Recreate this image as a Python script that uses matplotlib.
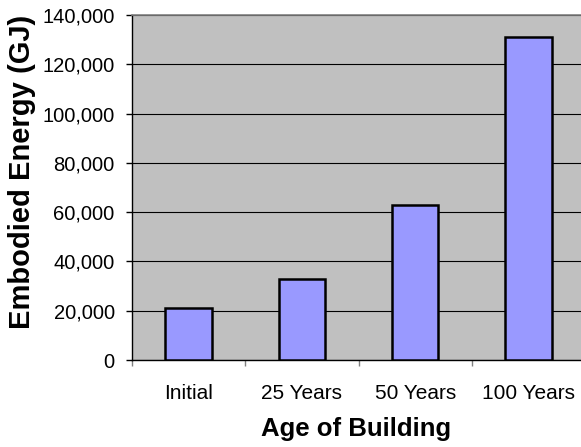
import matplotlib.pyplot as plt
from matplotlib.ticker import FuncFormatter, FixedLocator

plt.rcParams['font.family'] = ['Liberation Sans', 'DejaVu Sans']

# data
ages = ["Initial", "25 Years", "50 Years", "100 Years"]
energy = [21000, 32700, 63000, 131000]
yticks = [0, 20000, 40000, 60000, 80000, 100000, 120000, 140000]

fig = plt.figure(figsize=(5.81, 4.47), dpi=100)
# plot area runs slightly past the right edge, like the original
ax = fig.add_axes([132 / 581, 87 / 447, 453 / 581, 345 / 447])
ax.set_facecolor('#C0C0C0')

x = list(range(len(ages)))
ax.bar(x, energy, width=0.41, color='#9999FF', edgecolor='black', linewidth=1.8, zorder=3)

ax.set_xlim(-0.5, len(ages) - 0.5)
ax.set_ylim(0, 140000)
ax.set_yticks(yticks)
ax.yaxis.set_major_formatter(FuncFormatter(lambda v, p: "{:,.0f}".format(v)))
ax.yaxis.grid(True, color='black', linewidth=0.8, zorder=1)
ax.set_axisbelow(True)

ax.set_xticks(x)
ax.set_xticklabels(ages)
ax.xaxis.set_minor_locator(FixedLocator([i - 0.5 for i in range(len(ages) + 1)]))
ax.tick_params(axis='x', which='major', length=0, pad=17, labelsize=15)
ax.tick_params(axis='x', which='minor', length=4, width=1, color='#808080', direction='out')
ax.tick_params(axis='y', which='major', length=4.5, width=1, color='black', pad=8, labelsize=14.5)

for s in ['left', 'bottom']:
    ax.spines[s].set_color('black')
    ax.spines[s].set_linewidth(1)
ax.spines['top'].set_color('#808080')
ax.spines['top'].set_linewidth(1.2)
ax.spines['right'].set_visible(False)

ax.set_xlabel("Age of Building", fontsize=18.5, fontweight='bold', va='top')
ax.xaxis.set_label_coords(0.494, -0.166)
ax.set_ylabel("Embodied Energy (GJ)", fontsize=21, fontweight='bold', va='center', ha='center')
ax.yaxis.set_label_coords(-0.243, 0.546)

fig.savefig('out.png', dpi=100)
